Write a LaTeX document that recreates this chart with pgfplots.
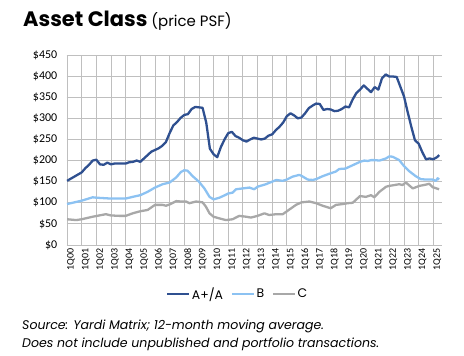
\documentclass[border=0pt]{standalone}
\usepackage{pgfplots}
\pgfplotsset{compat=1.18}
\usepackage{fontspec}
\setmainfont{Poppins}
\newfontfamily\carlito{Carlito}
\definecolor{cA}{HTML}{2F5090}
\definecolor{cB}{HTML}{8CC2F2}
\definecolor{cC}{HTML}{A8A8A8}
\definecolor{grid}{HTML}{D9D9D9}
\begin{document}
\begin{tikzpicture}[x=1bp,y=1bp]
\useasboundingbox (0,0) rectangle (464,355);
\node[anchor=base west,inner sep=0] at (23,329) {\fontsize{21}{21}\selectfont\bfseries Asset Class\fontsize{15}{15}\mdseries\selectfont\ (price PSF)};
\begin{axis}[
  at={(66.7bp,110bp)}, anchor=south west,
  scale only axis, width=375bp, height=190bp,
  xmin=-0.1, xmax=102.3, ymin=0, ymax=450,
  axis line style={draw=none},
  major tick length=0pt,
  ytick={0,50,...,450},
  yticklabels={\$0,\$50,\$100,\$150,\$200,\$250,\$300,\$350,\$400,\$450},
  yticklabel style={font=\carlito\fontsize{12}{12}\selectfont, anchor=east, xshift=-6bp},
  xtick={0,4,...,100},
  xticklabels={1Q00,1Q01,1Q02,1Q03,1Q04,1Q05,1Q06,1Q07,1Q08,1Q09,1Q10,1Q11,1Q12,1Q13,1Q14,1Q15,1Q16,1Q17,1Q18,1Q19,1Q20,1Q21,1Q22,1Q23,1Q24,1Q25},
  xticklabel style={font=\carlito\fontsize{10}{10}\selectfont, rotate=90, anchor=east, yshift=-4bp},
  ymajorgrids, grid style={grid, line width=0.8pt},
  legend style={draw=none, fill=none, at={(0.455,-0.258)}, anchor=center, font=\fontsize{12.5}{12.5}\selectfont, /tikz/every even column/.append style={column sep=6bp}, inner sep=0pt, nodes={inner sep=1.5bp}},
  legend columns=3,
  legend image code/.code={\draw[#1,line width=2.4pt] (0,0) -- (22bp,0);},
  every axis plot/.append style={line width=2.3pt, line join=round},
]
\addplot[cA] coordinates {
(0,152)(1,157)(2,162)(3,167)(4,172)(5,182)(6,190)(7,200)(8,202)(9,191)(10,190)(11,195)
(12,191)(13,193)(14,193)(15,193)(16,193)(17,196)(18,197)(19,200)(20,197)(21,205)(22,213)(23,221)
(24,225)(25,229)(26,235)(27,244)(28,265)(29,283)(30,291)(31,301)(32,308)(33,310)(34,322)(35,327)
(36,326)(37,325)(38,290)(39,228)(40,215)(41,208)(42,232)(43,250)(44,265)(45,268)(46,258)(47,254)
(48,248)(49,245)(50,250)(51,254)(52,252)(53,250)(54,252)(55,259)(56,262)(57,272)(58,280)(59,290)
(60,305)(61,312)(62,307)(63,300)(64,302)(65,312)(66,324)(67,330)(68,335)(69,334)(70,320)(71,322)
(72,321)(73,317)(74,318)(75,322)(76,328)(77,326)(78,345)(79,360)(80,368)(81,378)(82,370)(83,362)
(84,374)(85,368)(86,395)(87,404)(88,399)(89,399)(90,398)(91,375)(92,352)(93,315)(94,280)(95,248)
(96,240)(97,220)(98,203)(99,205)(100,203)(101,208)(101.6,213)
};
\addlegendentry{A+/A}
\addplot[cB] coordinates {
(0,97)(4,105)(7,113)(8,112)(12,110)(16,110)(17.9,114)(20,118)(22,126)(24,136)(26.1,144)(28,148)
(29.8,160)(31.1,173)(32,177)(32.9,176)(34.3,163)(36,150)(37.5,134)(38.9,114)(40,108)(41.6,112)
(43.1,118)(44,122)(45.2,124)(46.1,132)(48,134)(49.8,136)(51.1,132)(52,138)(54.3,144)(56,150)
(57.1,154)(58.9,152)(60,155)(61.6,162)(63.4,166)(64,164)(65.7,155)(67.1,154)(68,156)(69.8,163)
(72,170)(73.4,174)(74.3,180)(76,181)(77.5,187)(80,197)(81.2,200)(82.1,199)(83,201)(84,201)
(85.3,200)(87.1,205)(88,210)(88.9,209)(90.7,201)(92,187)(93.4,175)(95.2,163)(96.6,156)(98,155)
(99.8,155)(100.7,152)(101.2,158)(101.6,155)
};
\addlegendentry{B}
\addplot[cC] coordinates {
(0,61)(2.5,59)(4,61)(7,67)(8.8,70)(10.6,73)(12,70)(14.3,69)(16,69)(17.9,75)(20,80)(22,83)
(24,95)(26.1,95)(27,93)(28,96)(29.8,104)(31.1,103)(32.5,103)(33.4,99)(35.2,103)(37,101)
(37.9,91)(38.9,75)(40,67)(41.6,63)(43.4,59)(45.2,61)(47,69)(48.9,67)(50.2,65)(52,69)(53.9,75)
(55.2,71)(57.1,73)(58.9,73)(60.7,84)(62.5,95)(64,101)(66.2,103)(68,99)(69.8,93)(72,87)
(73.4,95)(75.3,97)(76.6,99)(78,100)(80,116)(81.6,114)(83,118)(83.9,113)(85.3,126)(87.1,138)
(88,140)(89.4,142)(90.7,144)(91.6,142)(92.5,148)(94.4,134)(96.2,140)(98,143)(98.9,145)
(99.8,137)(101.6,132)
};
\addlegendentry{C}
\end{axis}
\node[anchor=base west,inner sep=0] at (22,26) {\fontsize{12.6}{12.6}\selectfont\itshape Source: Yardi Matrix; 12-month moving average.};
\node[anchor=base west,inner sep=0] at (22,8) {\fontsize{12.6}{12.6}\selectfont\itshape Does not include unpublished and portfolio transactions.};
\end{tikzpicture}
\end{document}
